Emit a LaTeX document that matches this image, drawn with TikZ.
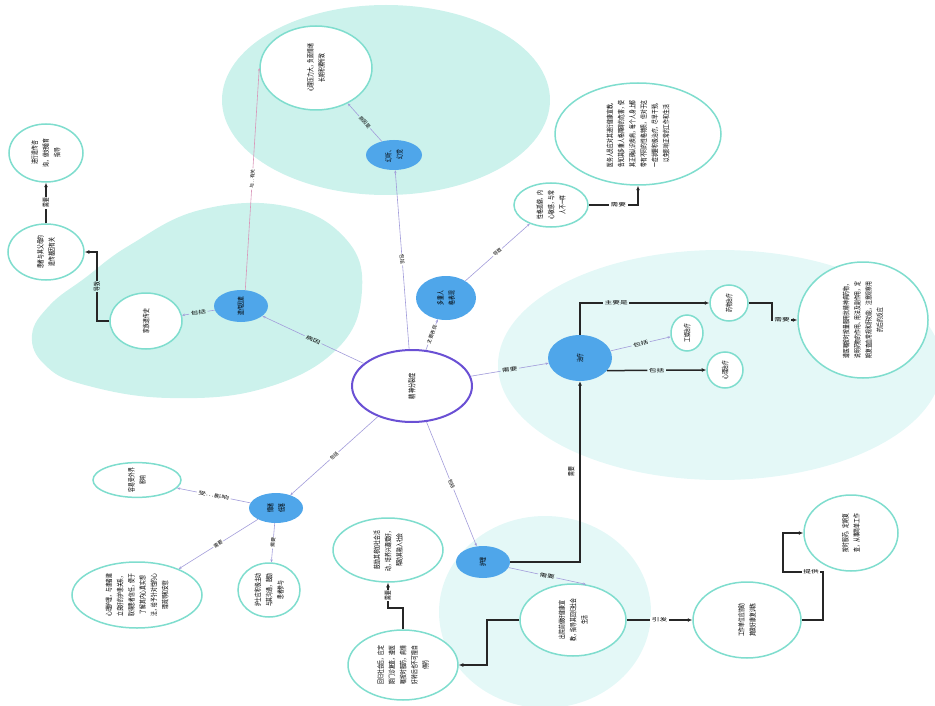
\documentclass[tikz,border=0pt]{standalone}
\usepackage{fontspec}
\usepackage{graphicx}
\setmainfont{Noto Sans CJK SC}
\usetikzlibrary{shapes.geometric,arrows.meta}
\XeTeXlinebreaklocale "zh"
\XeTeXlinebreakskip=0pt plus 1pt

\definecolor{bubA}{HTML}{CCF2EC}
\definecolor{bubB}{HTML}{E4F8F7}
\definecolor{leafline}{HTML}{7FDDCE}
\definecolor{hubfill}{HTML}{4FA6EA}
\definecolor{coreline}{HTML}{6A50D4}
\definecolor{lav}{HTML}{A29CDA}
\definecolor{pinkline}{HTML}{D996B9}

% text set in columns turned a quarter turn, glyphs widened across the column
\newcommand\vcol[1]{\rotatebox{90}{\scalebox{1}[1.5]{#1}}}
\newcommand\vpar[2]{\rotatebox{90}{\scalebox{1}[1.5]{\parbox{#1}{\centering #2}}}}

\tikzset{
  leaf/.style={ellipse, draw=leafline, line width=1.5pt, fill=white, inner sep=0pt,
    font=\fontsize{4.8}{7.5}\selectfont},
  hub/.style={ellipse, fill=hubfill, inner sep=0pt, font=\fontsize{4.8}{7.5}\selectfont},
  core/.style={ellipse, draw=coreline, line width=2pt, fill=white, inner sep=0pt,
    font=\fontsize{5.2}{7.5}\selectfont},
  link/.style={draw=lav, line width=0.6pt, -{Stealth[length=3pt,width=2.4pt]}},
  heavy/.style={draw=black!85, line width=1.5pt, -{Latex[length=4.5pt,width=4pt]}},
  elabel/.style={font=\fontsize{4.8}{5}\selectfont, fill=white, inner sep=1pt, sloped},
  elabelA/.style={elabel, fill=bubA},
  elabelB/.style={elabel, fill=bubB},
  hlab/.style={xscale=1.6},
  vlab/.style={yscale=1.5},
}

\begin{document}
\begin{tikzpicture}[x=1pt,y=-1pt]
\useasboundingbox (0,0) rectangle (935,706);

% soft background regions
\fill[bubA] (386,100) ellipse [x radius=164, y radius=95];
\fill[bubA] plot[smooth cycle, tension=0.7] coordinates {
  (32,335) (50,305) (85,278) (130,245) (200,210) (285,206) (345,238) (362,290)
  (338,348) (265,388) (170,398) (85,385) (45,365)};
\fill[bubB] (720,365) ellipse [x radius=222, y radius=115];
\fill[bubB] (545,612) ellipse [x radius=106, y radius=96];

% central topic
\node[core, minimum width=120pt, minimum height=72pt] (O) at (412,386) {\vcol{精神分裂症}};

% upper branch
\node[hub, minimum width=56pt, minimum height=30pt] (B) at (394,155) {\vpar{15pt}{幻听、幻觉}};
\node[leaf, minimum width=112pt, minimum height=84pt] (A) at (316,68) {\vpar{48.6pt}{心理压力大，负面情绪长期积累所致}};

% left branch
\node[hub, minimum width=54pt, minimum height=32pt] (C) at (241,306) {\vcol{遗传因素}};
\node[leaf, minimum width=72pt, minimum height=56pt] (C1) at (146,321) {\vcol{家族遗传史}};
\node[leaf, minimum width=76pt, minimum height=56pt] (C2) at (46,252) {\vpar{34.2pt}{患者与其父母的遗传基因有关}};
\node[leaf, minimum width=74pt, minimum height=58pt] (C3) at (46,153) {\vpar{29.4pt}{进行遗传咨询，做好婚育指导}};

% upper right branch
\node[hub, minimum width=60pt, minimum height=44pt] (D) at (446,298) {\vpar{15pt}{多重人格表现}};
\node[leaf, minimum width=74pt, minimum height=44pt] (D1) at (551,205) {\vpar{29.4pt}{性格孤僻，内心敏感，与常人不一样}};
\node[leaf, minimum width=166pt, minimum height=102pt] (D2) at (638,134) {\vpar{67.8pt}{医务人员应对其进行健康宣教，告知其多重人格障碍的危害，使其正确认识疾病，每个人身上都带有不同的性格特质，但对于这一症状要积极治疗，尽早干预，以免影响正常的工作和生活}};

% treatment branch
\node[hub, minimum width=64pt, minimum height=46pt] (E) at (580,358) {\vcol{治疗}};
\node[leaf, minimum width=38pt, minimum height=36pt] (E1) at (729,303) {\vcol{药物治疗}};
\node[leaf, minimum width=32pt, minimum height=36pt] (E2) at (687,333) {\vcol{工娱治疗}};
\node[leaf, minimum width=36pt, minimum height=36pt] (E3) at (725,370) {\vcol{心理治疗}};
\node[leaf, minimum width=130pt, minimum height=116pt] (E4) at (863,320) {\vpar{78pt}{遵医嘱按时按量服用抗精神病药物，说明药物的作用、用法及副作用，定期复查血常规和肝功能，注意观察用药后的反应}};

% lower left branch
\node[hub, minimum width=54pt, minimum height=30pt] (F) at (276,508) {\vpar{10.2pt}{情绪低落}};
\node[leaf, minimum width=88pt, minimum height=34pt] (F1) at (137,480) {\vpar{24.6pt}{容易受外界影响}};
\node[leaf, minimum width=62pt, minimum height=54pt] (F2) at (269,590) {\vpar{34.2pt}{护士应积极主动与其沟通，鼓励患者参与}};
\node[leaf, minimum width=130pt, minimum height=66pt] (F3) at (137,595) {\vpar{43.8pt}{心理护理，与患者建立良好的护患关系，取得患者信任，便于了解其内心真实想法，给予针对性的心理疏导和安慰}};

% nursing branch
\node[hub, minimum width=54pt, minimum height=32pt] (G) at (483,562) {\vcol{护理}};
\node[leaf, minimum width=106pt, minimum height=72pt] (G1) at (573,620) {\vpar{43.8pt}{出院前做好健康宣教，指导其回归社会生活}};
\node[leaf, minimum width=108pt, minimum height=76pt] (G2) at (747,620) {\vpar{34.2pt}{工作单位应协助其做好康复训练}};
\node[leaf, minimum width=94pt, minimum height=76pt] (G3) at (851,533) {\vpar{39pt}{按时服药，定期复查，从事简单工作}};
\node[leaf, minimum width=110pt, minimum height=70pt] (G4) at (403,665) {\vpar{39pt}{回归社会后，应定期门诊复查，遵医嘱按时服药，病情好转后也不可擅自停药}};
\node[leaf, minimum width=110pt, minimum height=64pt] (G5) at (388,550) {\vpar{43.8pt}{鼓励其参加社会活动，培养兴趣爱好，帮助其融入社会}};

% connectors: upper branch
\draw[link] (O) -- node[elabel]{包括} (B);
\draw[link] (B) -- node[elabelA]{原因是} (A);

% connectors: left branch
\draw[link] (O) -- node[elabelA, hlab]{病因} (C);
\draw[link, draw=pinkline] (C.75) -- node[elabel]{与…有关} (A.west);
\draw[link] (C) -- node[elabelA, hlab]{包括} (C1);
\draw[heavy] (C1.west) -- (97,321) -- node[elabelA, vlab]{导致} (97,252) -- (C2.east);
\draw[heavy] (C2.north) -- node[elabel, vlab]{需要} (C3.south);

% connectors: upper right branch
\draw[link] (O) -- node[elabel]{主要表现} (D);
\draw[link] (D) -- node[elabel]{导致} (D1);
\draw[heavy] (D1.east) -| node[elabel, hlab, pos=0.3]{需要} (D2.south);

% connectors: treatment
\draw[link] (O) -- node[elabelB, hlab]{需要} (E);
\draw[heavy] (E.north) |- node[elabelB, hlab, pos=0.64]{主要是} (E1.west);
\draw[link] (E) -- node[elabelB, hlab]{包括} (E2);
\draw[heavy] (E.-25) -- node[elabelB, hlab]{包括} (E3.west);
\draw[heavy] (E1.east) -- (772,303) |- node[elabelB, hlab, pos=0.7]{需要} (E4.west);

% connectors: lower left branch
\draw[link] (O) -- node[elabel]{包括} (F);
\draw[link] (F) -- node[elabel, hlab]{受…影响} (F1);
\draw[link] (F) -- node[elabel]{需要} (F2);
\draw[link] (F) -- node[elabel]{需要} (F3);

% connectors: nursing
\draw[link] (O) -- node[elabel]{包括} (G);
\draw[heavy] (G.east) -| node[elabel, vlab, pos=0.75, above=2pt]{需要} (E.south);
\draw[link] (G) -- node[elabelB, hlab]{需要} (G1.70);
\draw[heavy] (G1.east) -- node[elabel, hlab]{引发} (G2.west);
\draw[heavy] (G2.east) -- (823,620) -- (823,572) -- node[elabel, hlab, pos=0.3]{提供} (783,572) -- (783,533) -- (G3.west);
\draw[heavy] (G1.west) -- (487,620) |- (G4.east);
\draw[heavy] (G4.north) -- (403,608) -- (388,608) -- node[elabel, vlab]{需要} (G5.south);

\end{tikzpicture}
\end{document}
